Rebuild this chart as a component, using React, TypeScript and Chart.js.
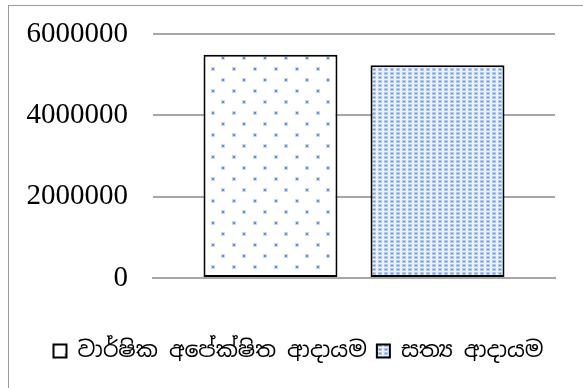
import React, { useEffect, useRef } from "react";
import { Chart, registerables } from "chart.js";

Chart.register(...registerables);

const categories: string[] = [""];
const seriesNames: string[] = ["වාර්ෂික අපේක්ෂිත ආදායම", "සත්‍ය ආදායම"];
const expectedIncome: number[] = [5490000];
const actualIncome: number[] = [5230000];
const yTicks: number[] = [0, 2000000, 4000000, 6000000];

function sparseDots(): CanvasPattern | string {
  const c = document.createElement("canvas");
  c.width = 21;
  c.height = 22;
  const g = c.getContext("2d");
  if (!g) return "#fff";
  g.fillStyle = "#ffffff";
  g.fillRect(0, 0, 21, 22);
  g.fillStyle = "#c9d8f1";
  g.fillRect(1, 1, 4, 4);
  g.fillRect(11, 12, 4, 4);
  g.fillStyle = "#5f8fd8";
  g.fillRect(2, 2, 2, 2);
  g.fillRect(12, 13, 2, 2);
  return g.createPattern(c, "repeat") || "#fff";
}

function denseDots(): CanvasPattern | string {
  const c = document.createElement("canvas");
  c.width = 6;
  c.height = 4;
  const g = c.getContext("2d");
  if (!g) return "#dce6f5";
  g.fillStyle = "#eef3fb";
  g.fillRect(0, 0, 6, 4);
  g.fillStyle = "#b4caee";
  g.fillRect(0, 0, 4, 3);
  g.fillStyle = "#6a96dc";
  g.fillRect(1, 1, 2, 1);
  return g.createPattern(c, "repeat") || "#dce6f5";
}

const shiftLegend = {
  id: "shiftLegend",
  afterLayout(chart: any) {
    const lg = chart.legend;
    if (lg) {
      lg.left += 21;
      lg.right += 21;
    }
  },
};

export default function App() {
  const ref = useRef<HTMLCanvasElement | null>(null);

  useEffect(() => {
    if (!ref.current) return;
    const chart = new Chart(ref.current, {
      type: "bar",
      data: {
        labels: categories,
        datasets: [
          {
            label: seriesNames[0],
            data: expectedIncome,
            backgroundColor: sparseDots() as any,
            borderColor: "#000000",
            borderWidth: 2,
            borderSkipped: false,
          },
          {
            label: seriesNames[1],
            data: actualIncome,
            backgroundColor: denseDots() as any,
            borderColor: "#000000",
            borderWidth: 2,
            borderSkipped: false,
          },
        ],
      },
      plugins: [shiftLegend],
      options: {
        animation: false,
        responsive: false,
        maintainAspectRatio: false,
        events: [],
        layout: { padding: { top: 34, right: 28, left: 0, bottom: 16 } },
        datasets: {
          bar: { categoryPercentage: 0.831, barPercentage: 0.802 },
        },
        scales: {
          x: {
            ticks: { display: false },
            grid: { display: false, drawTicks: false },
            border: { display: true, color: "#a6a6a6", width: 2 },
            afterFit: (s: any) => {
              s.height = 52;
            },
          },
          y: {
            min: 0,
            max: 6000000,
            afterFit: (s: any) => {
              s.width = 153;
            },
            afterBuildTicks: (s: any) => {
              s.ticks = yTicks.map((v) => ({ value: v }));
            },
            ticks: {
              padding: 25,
              color: "#000000",
              font: { family: "'Liberation Serif', 'Times New Roman', serif", size: 29, lineHeight: 0.5 },
              callback: (v: any) => String(v),
            },
            grid: { color: "#a6a6a6", lineWidth: 2, drawTicks: false },
            border: { display: false },
          },
        },
        plugins: {
          tooltip: { enabled: false },
          legend: {
            position: "bottom",
            labels: {
              boxWidth: 13,
              boxHeight: 13,
              padding: 10,
              color: "#000000",
              font: { family: "'Noto Sans Sinhala', 'Iskoola Pota', 'Noto Sans', sans-serif", size: 22 },
            },
          },
        },
      },
    });
    return () => chart.destroy();
  }, []);

  return (
    <div style={{ position: "fixed", left: 0, top: 0, width: 583, height: 388, overflow: "hidden", background: "#fff" }}>
      <div style={{ position: "absolute", left: 8, top: 5, width: 700, height: 500, borderLeft: "1px solid #9a9a9a", borderTop: "1px solid #9a9a9a" }} />
      <canvas ref={ref} width={583} height={388} style={{ position: "absolute", left: 0, top: 0, width: 583, height: 388 }} />
    </div>
  );
}
